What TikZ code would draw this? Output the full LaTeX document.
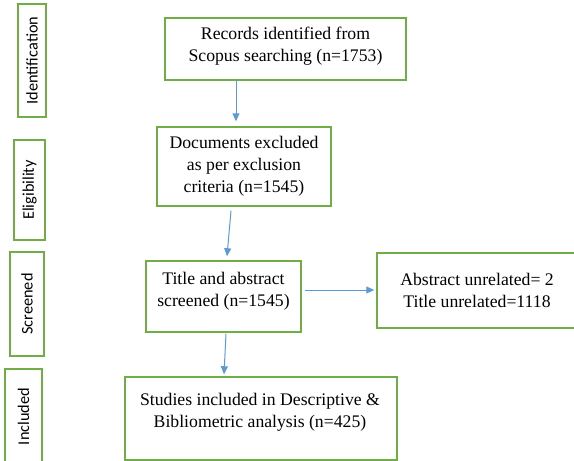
\documentclass[tikz,border=0pt]{standalone}
\usepackage{fontspec}
\setmainfont{Liberation Serif}
\newfontfamily\sidefont{Carlito}
\usetikzlibrary{arrows.meta,calc}
\definecolor{boxgreen}{HTML}{70AD47}
\definecolor{arrblue}{HTML}{5B9BD5}
\begin{document}
\begin{tikzpicture}[x=1pt,y=-1pt,
  box/.style={draw=boxgreen,line width=1.5pt,rectangle,inner sep=0pt,align=center,font=\fontsize{17.7}{22}\selectfont},
  txt/.style={align=center,inner sep=0pt,font=\fontsize{17.7}{22}\selectfont},
  side/.style={draw=boxgreen,line width=1.5pt,rectangle,inner sep=0pt,rotate=90,font=\sidefont\fontsize{16.3}{20}\selectfont},
  conn/.style={draw=arrblue,line width=1pt,-{Triangle[width=7pt,length=8pt]}}]
\useasboundingbox (0,0) rectangle (574,461);
\clip (0,0) rectangle (574,461);
\fill[white] (0,0) rectangle (574,461);

% stage boxes
\node[side,minimum width=113pt,minimum height=28pt] (ident) at (32,60.5) {Identification};
\node[side,minimum width=100pt,minimum height=31pt] (elig) at (29.5,190) {Eligibility};
\node[side,minimum width=104pt,minimum height=34pt] (scr) at (27,304) {Screened};
\node[side,minimum width=95pt,minimum height=37pt] (incl) at (23.5,416.5) {Included};

% main boxes
\node[box,minimum width=241pt,minimum height=62pt] (rec) at (285.5,49) {};
\node[txt] (recT) at (285.5,46) {Records identified from\\Scopus searching (n=1753)};
\node[box,minimum width=174pt,minimum height=79pt] (doc) at (244,166.5) {Documents excluded\\as per exclusion\\criteria (n=1545)};
\node[box,minimum width=155pt,minimum height=71pt] (title) at (223.5,296.5) {};
\node[txt] (titleT) at (223.5,291) {Title and abstract\\screened (n=1545)};
\node[box,minimum width=200pt,minimum height=75pt] (abs) at (477,290.5) {Abstract unrelated= 2\\Title unrelated=1118};
\node[box,minimum width=272pt,minimum height=83pt] (studies) at (261,418.5) {};
\node[txt] (studiesT) at (260,412.5) {Studies included in Descriptive \&\\Bibliometric analysis (n=425)};

% connectors
\draw[conn] ([xshift=-49.5pt,yshift=1pt]rec.south) -- ([xshift=-8pt,yshift=5pt]doc.north);
\draw[conn] ([xshift=-13pt,yshift=-4pt]doc.south) -- ([xshift=3.5pt,yshift=4pt]title.north);
\draw[conn] ([xshift=3pt,yshift=6.5pt]title.east) -- ([xshift=-2pt,yshift=0.5pt]abs.west);
\draw[conn] ([xshift=2.5pt,yshift=-1pt]title.south) -- ([xshift=-37pt,yshift=2pt]studies.north);
\end{tikzpicture}
\end{document}
